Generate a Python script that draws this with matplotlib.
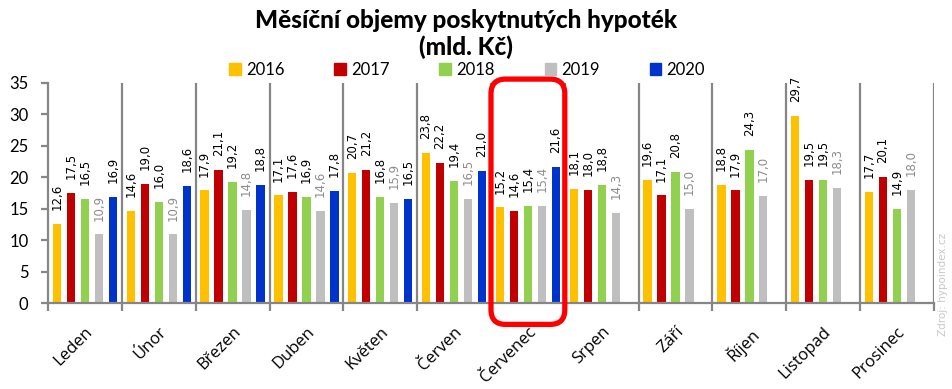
import numpy as np
import matplotlib
matplotlib.use("Agg")
import matplotlib.pyplot as plt
from matplotlib.patches import Patch, FancyBboxPatch
from matplotlib.transforms import ScaledTranslation

months = ["Leden", "Únor", "Březen", "Duben", "Květen", "Červen", "Červenec",
          "Srpen", "Září", "Říjen", "Listopad", "Prosinec"]
years = ["2016", "2017", "2018", "2019", "2020"]
v2016 = [12.6, 14.6, 17.9, 17.1, 20.7, 23.8, 15.2, 18.1, 19.6, 18.8, 29.7, 17.7]
v2017 = [17.5, 19.0, 21.1, 17.6, 21.2, 22.2, 14.6, 18.0, 17.1, 17.9, 19.5, 20.1]
v2018 = [16.5, 16.0, 19.2, 16.9, 16.8, 19.4, 15.4, 18.8, 20.8, 24.3, 19.5, 14.9]
v2019 = [10.9, 10.9, 14.8, 14.6, 15.9, 16.5, 15.4, 14.3, 15.0, 17.0, 18.3, 18.0]
v2020 = [16.9, 18.6, 18.8, 17.8, 16.5, 21.0, 21.6]
series = [v2016, v2017, v2018, v2019, v2020]
colors = ["#FFC000", "#C00000", "#92D050", "#BFBFBF", "#0033CC"]
label_colors = ["#000000", "#000000", "#000000", "#8C8C8C", "#000000"]
highlight = 6  # Červenec

grid_c = "#868686"
fig = plt.figure(figsize=(9.53, 3.89), dpi=100)
ax = fig.add_axes([0.0504, 0.221, 0.9296, 0.566])

step = 0.1895
width = 0.112
for k, vals in enumerate(series):
    x = np.arange(len(vals)) + (k - 2) * step
    ax.bar(x, vals, width=width, color=colors[k], zorder=2)
    for xi, v in zip(x, vals):
        ax.annotate(f"{v:.1f}".replace(".", ","), (xi, v), xytext=(0, 10),
                    textcoords="offset points", rotation=90, ha="center",
                    va="bottom", fontsize=8.5, color=label_colors[k],
                    family="DejaVu Sans")

ax.set_xlim(-0.5, len(months) - 0.5)
ax.set_ylim(0, 35)
ax.set_yticks(np.arange(0, 36, 5))
bounds = np.arange(len(months) + 1) - 0.5
for b in bounds[1:]:
    ax.axvline(b, color=grid_c, lw=1.6, zorder=1)
ax.set_xticks(bounds, minor=True)
ax.set_xticks(np.arange(len(months)))
ax.set_xticklabels(months, rotation=45, ha="right", va="top",
                   rotation_mode="anchor", fontsize=12, family="Open Sans")
shift = ScaledTranslation(-3 / 100, 0, fig.dpi_scale_trans)
for lbl in ax.get_xticklabels():
    lbl.set_transform(lbl.get_transform() + shift)
ax.tick_params(axis="x", which="major", length=0, pad=15)
ax.tick_params(axis="x", which="minor", length=6, width=1.6, color=grid_c)
ax.tick_params(axis="y", length=5, width=1.6, color=grid_c, labelsize=12, pad=9)
for lbl in ax.get_yticklabels():
    lbl.set_family("Lato")
for s in ["top", "right"]:
    ax.spines[s].set_visible(False)
for s in ["left", "bottom"]:
    ax.spines[s].set_color(grid_c)
    ax.spines[s].set_linewidth(1.6)

# highlighted month
px_x = 1 / 73.9
px_y = 1 / 6.29
box = FancyBboxPatch((highlight - 0.5, -3.4), 1.0, 39.0,
                     boxstyle="round,pad=0,rounding_size=0.2",
                     mutation_aspect=px_y / px_x,
                     fill=False, ec="#FF0000", lw=3.8, clip_on=False, zorder=5)
ax.add_patch(box)

fig.text(0.489, 0.948, "Měsíční objemy poskytnutých hypoték", ha="center",
         va="center", fontsize=17.5, fontweight="black", family="Lato")
fig.text(0.489, 0.878, "(mld. Kč)", ha="center", va="center", fontsize=17.5,
         fontweight="black", family="Lato")

handles = [Patch(color=c) for c in colors]
fig.legend(handles, years, loc="center", bbox_to_anchor=(0.49, 0.82), ncol=5,
           frameon=False, handlelength=0.7, handleheight=0.7,
           handletextpad=0.3, columnspacing=3.0, prop={"family": "Lato", "size": 12})

fig.text(0.99, 0.27, "Zdroj: hypoindex.cz", rotation=90, ha="center", va="center",
         fontsize=7.5, color="#C8C8C8")

fig.savefig("out.png", dpi=100)
